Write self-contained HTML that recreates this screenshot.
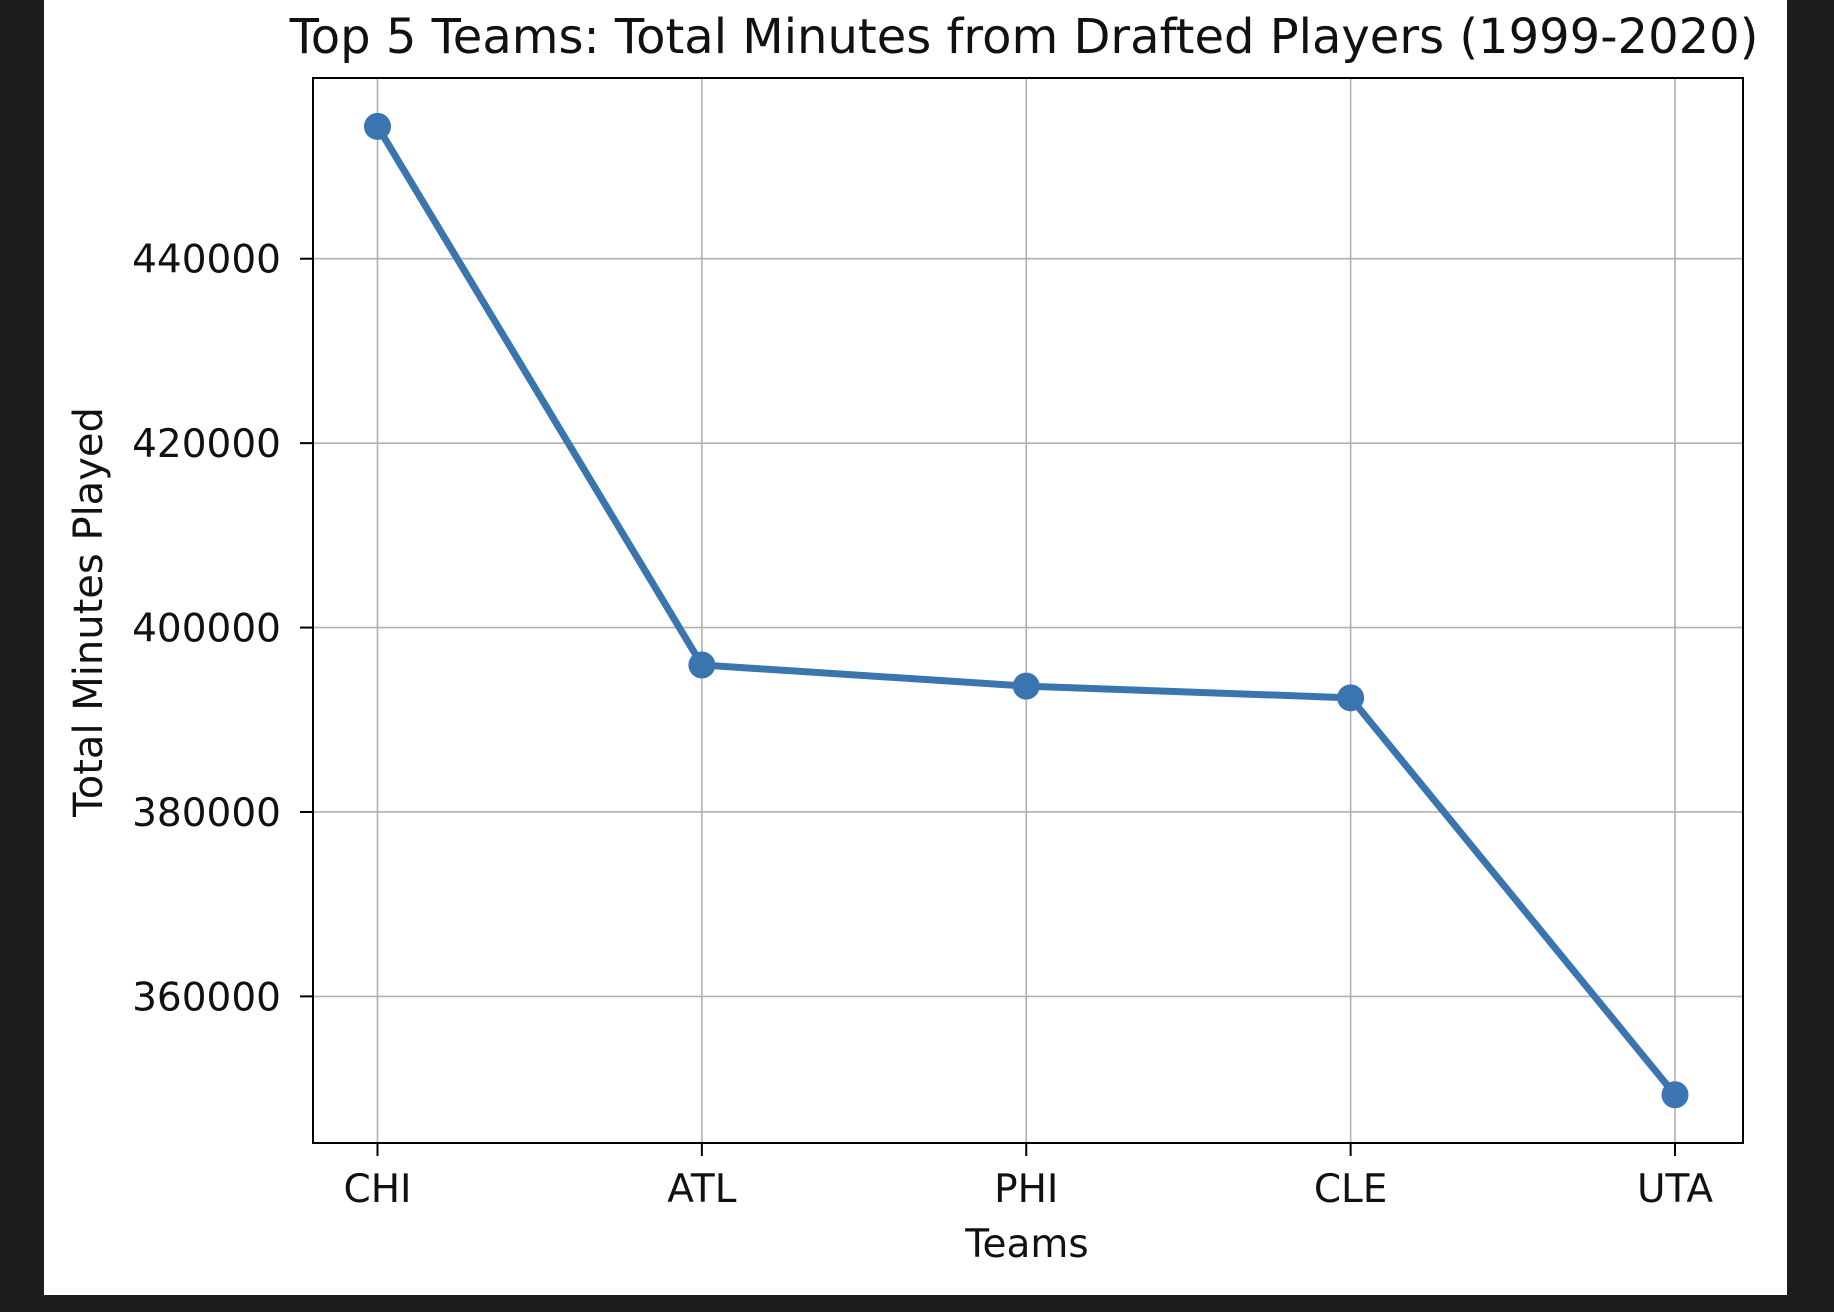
<!DOCTYPE html>
<html><head><meta charset="utf-8"><style>
html,body{margin:0;padding:0;background:#1c1c1c;}
svg{display:block;font-family:"DejaVu Sans","Liberation Sans",sans-serif;}
</style></head><body>
<svg id="chart" width="1834" height="1312" viewBox="0 0 1834 1312">
<rect x="44" y="0" width="1743" height="1295" fill="#ffffff"/>
<g id="grid"></g>
<g id="axes"></g>
<g id="series"></g>
<rect x="313" y="78" width="1430" height="1065" fill="none" stroke="#000" stroke-width="2"/>
<text x="1024" y="53" font-size="48" text-anchor="middle" fill="#111">Top 5 Teams: Total Minutes from Drafted Players (1999-2020)</text>
<text x="1027" y="1257" font-size="39" text-anchor="middle" fill="#111">Teams</text>
<text x="0" y="0" font-size="40" text-anchor="middle" fill="#111" transform="translate(102,612) rotate(-90)">Total Minutes Played</text>
</svg>
<script>
const categories = ["CHI","ATL","PHI","CLE","UTA"];
const minutes = [454350, 395940, 393650, 392380, 349330];
const yTicks = [360000, 380000, 400000, 420000, 440000];
const yTickLabels = ["360000","380000","400000","420000","440000"];

const NS = "http://www.w3.org/2000/svg";
const L = 313, R = 1743, T = 78, B = 1143;
const yMin = 344100, yMax = 459600;
function xScale(i){ const padL = 64.5, padR = 68; return L + padL + i * (R - L - padL - padR) / (categories.length - 1); }
function yScale(v){ return B - (v - yMin) / (yMax - yMin) * (B - T); }
function mk(tag, attrs, parent){ const e = document.createElementNS(NS, tag); for (const k in attrs) e.setAttribute(k, attrs[k]); parent.appendChild(e); return e; }

const grid = document.getElementById('grid');
const axes = document.getElementById('axes');
const series = document.getElementById('series');

yTicks.forEach((v, i) => {
  const y = yScale(v);
  const g = mk('line', {x1:L, x2:R, y1:y, y2:y, stroke:'#b0b0b0', 'stroke-width':1.6}, grid);
  
  
  const t = mk('line', {x1:L-13, x2:L, y1:y, y2:y, stroke:'#000', 'stroke-width':2}, axes);
  
  
  const lb = mk('text', {x:L-32, y:y+14, 'font-size':39, 'text-anchor':'end', fill:'#111'}, axes);
  lb.textContent = yTickLabels[i];
  
  
});
categories.forEach((c, i) => {
  const x = xScale(i);
  const g = mk('line', {x1:x, x2:x, y1:T, y2:B, stroke:'#b0b0b0', 'stroke-width':1.6}, grid);
  
  
  const t = mk('line', {x1:x, x2:x, y1:B, y2:B+13, stroke:'#000', 'stroke-width':2}, axes);
  
  
  const lb = mk('text', {x:x, y:1202, 'font-size':39, 'text-anchor':'middle', fill:'#111'}, axes);
  lb.textContent = c;
  
  
});
const pts = minutes.map((v, i) => xScale(i) + ',' + yScale(v)).join(' ');
const line = mk('polyline', {points:pts, fill:'none', stroke:'#3a75af', 'stroke-width':7, 'stroke-linejoin':'round'}, series);


minutes.forEach((v, i) => {
  const p = mk('circle', {cx:xScale(i), cy:yScale(v), r:13.5, fill:'#3a75af'}, series);
  
  
});
</script>
</body></html>
